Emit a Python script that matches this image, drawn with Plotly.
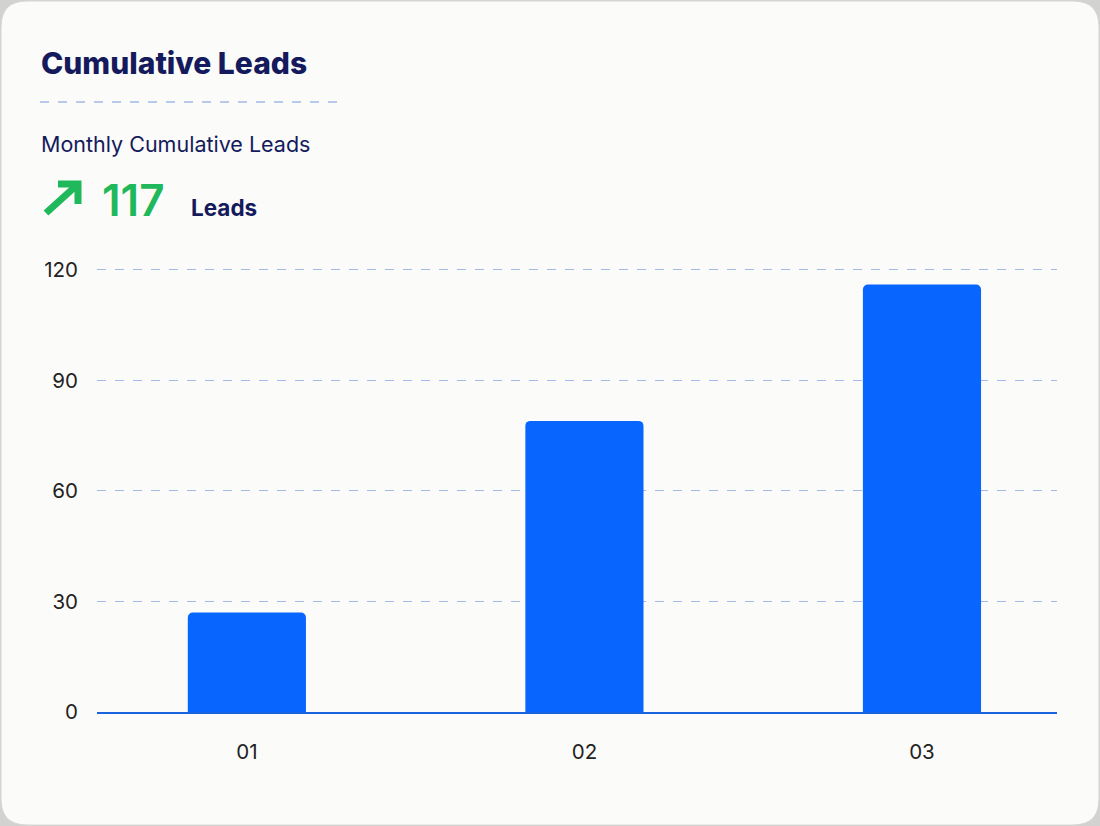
import plotly.graph_objects as go

# data
months = ["01", "02", "03"]
leads = [27, 79, 116]
y_ticks = [0, 30, 60, 90, 120]
headline_value = "117"

NAVY = "#141a5c"
GREEN = "#1fb85a"
BLUE = "#0866ff"
GRID = "#a3b9e6"

W, H = 1100, 826
L, R, T, B = 97, 43, 268, 114
PW, PH = W - L - R, H - T - B


def fx(px):
    return (px - L) / PW


def fy(py):
    return (H - B - py) / PH


fig = go.Figure()
fig.add_trace(go.Bar(
    x=months, y=leads, marker_color=BLUE, width=0.35,
    marker_line_width=0, hoverinfo="x+y",
))

# rounded card behind everything
r = 26
x0, x1, y0, y1 = 1, W - 1, 1, H - 1
rx, ry = r / PW, r / PH
card = (
    f"M {fx(x0)+rx},{fy(y0)} L {fx(x1)-rx},{fy(y0)} Q {fx(x1)},{fy(y0)} {fx(x1)},{fy(y0)-ry} "
    f"L {fx(x1)},{fy(y1)+ry} Q {fx(x1)},{fy(y1)} {fx(x1)-rx},{fy(y1)} "
    f"L {fx(x0)+rx},{fy(y1)} Q {fx(x0)},{fy(y1)} {fx(x0)},{fy(y1)+ry} "
    f"L {fx(x0)},{fy(y0)-ry} Q {fx(x0)},{fy(y0)} {fx(x0)+rx},{fy(y0)} Z"
)
fig.add_shape(type="path", path=card, xref="paper", yref="paper", layer="below",
              fillcolor="#fbfbf9", line=dict(color="#d6d6d4", width=1))

# dashed rule under the title
fig.add_shape(type="line", xref="paper", yref="paper",
              x0=fx(40), x1=fx(338), y0=fy(102), y1=fy(102),
              line=dict(color=GRID, width=1.3, dash="dash"))

fig.add_annotation(text="Cumulative Leads", xref="paper", yref="paper",
                   x=fx(39), y=fy(63), xanchor="left", yanchor="middle", showarrow=False,
                   font=dict(family="Inter", size=30, weight=800, color=NAVY))
fig.add_annotation(text="Monthly Cumulative Leads", xref="paper", yref="paper",
                   x=fx(39), y=fy(144), xanchor="left", yanchor="middle", showarrow=False,
                   font=dict(family="Inter", size=21.5, color=NAVY))
fig.add_annotation(text=headline_value, xref="paper", yref="paper",
                   x=fx(100), y=fy(200), xanchor="left", yanchor="middle", showarrow=False,
                   font=dict(family="Inter", size=44, weight=600, color=GREEN))
fig.add_annotation(text="Leads", xref="paper", yref="paper",
                   x=fx(189), y=fy(207), xanchor="left", yanchor="middle", showarrow=False,
                   font=dict(family="Inter", size=22.5, weight=700, color=NAVY))

# trend arrow: shaft plus chevron head
fig.add_shape(type="line", xref="paper", yref="paper",
              x0=fx(46), y0=fy(213), x1=fx(77), y1=fy(185),
              line=dict(color=GREEN, width=7))
fig.add_shape(type="path", xref="paper", yref="paper",
              path=f"M {fx(58)},{fy(184)} L {fx(78)},{fy(184)} L {fx(78)},{fy(204)}",
              line=dict(color=GREEN, width=7))

fig.update_layout(
    width=W, height=H,
    margin=dict(l=L, r=R, t=T, b=B),
    paper_bgcolor="#d2d2d0",
    plot_bgcolor="rgba(0,0,0,0)",
    barcornerradius=5,
    showlegend=False,
    font=dict(family="Inter", color="#222222"),
)
fig.update_yaxes(
    range=[0, 120.5], tickvals=y_ticks, showgrid=True, gridcolor=GRID,
    griddash="dash", gridwidth=1, zeroline=False, showline=False,
    ticklabelstandoff=18, tickfont=dict(size=20.5, color="#222222"),
)
fig.update_xaxes(
    range=[-0.444, 2.4], showgrid=False, showline=True, linecolor="#1a62e0",
    linewidth=2, ticks="", ticklabelstandoff=20,
    tickfont=dict(size=20.5, color="#222222"),
)

fig.write_html("out.html", config={"displayModeBar": False},
               post_script="document.body.style.margin='0';")
